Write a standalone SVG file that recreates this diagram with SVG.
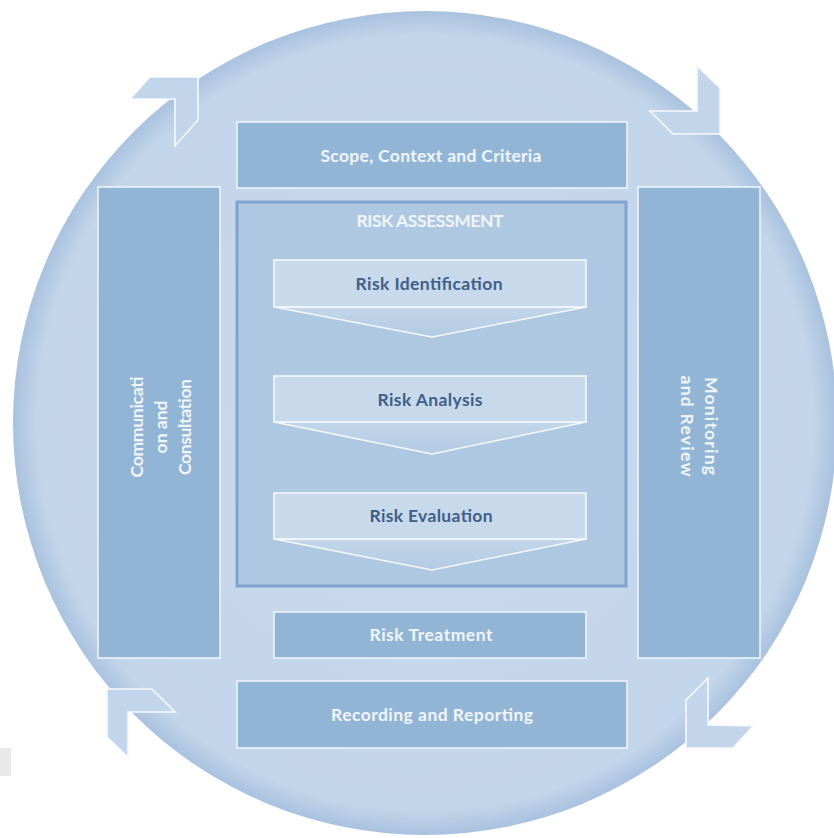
<svg xmlns="http://www.w3.org/2000/svg" width="834" height="838" viewBox="0 0 834 838">
  <defs>
    <radialGradient id="gCircle" cx="0.5" cy="0.5" r="0.5">
      <stop offset="0" stop-color="#c9daee"/>
      <stop offset="0.94" stop-color="#c3d5ea"/>
      <stop offset="1" stop-color="#a9c2df"/>
    </radialGradient>
    <linearGradient id="gTri" x1="0" y1="0" x2="0" y2="1">
      <stop offset="0" stop-color="#c3d6ea"/>
      <stop offset="1" stop-color="#b2cae3"/>
    </linearGradient>
    <style>
      .box { fill: #93b5d5; stroke: #eef4fa; stroke-width: 1.6; }
      .ra { fill: #aec8e1; stroke: #7ea3cc; stroke-width: 3; }
      .chevRect { fill: #c8d9ec; stroke: #f4f8fc; stroke-width: 1.6; }
      .chevTri { fill: url(#gTri); stroke: #f4f8fc; stroke-width: 1.6; stroke-linejoin: round; }
      .arrow { fill: #c2d5ea; stroke: #f6f9fd; stroke-width: 1.6; stroke-linejoin: miter; }
      .lbl { font-family: Lato, "Open Sans", "Liberation Sans", sans-serif; font-weight: bold; font-size: 17.5px; text-anchor: middle; }
      .w { fill: #f0f5fa; }
      .d { fill: #3f5f88; }
    </style>
  </defs>

  <rect x="0" y="0" width="834" height="838" fill="#ffffff"/>
  <rect x="0" y="748" width="11" height="28" fill="#e9e9e9"/>

  <g id="background-circle">
    <circle cx="425" cy="423" r="412" fill="url(#gCircle)"/>
  </g>

  <g id="connectors">
    <polygon class="arrow" points="150,77 198,77 198,120 175,146 175,99 130,99"/>
    <polygon class="arrow" points="697,66 720,88 720,134 673,134 650,111 697,111"/>
    <polygon class="arrow" points="686,700 708,678 708,725 753,726 733,748 686,748"/>
    <polygon class="arrow" points="107,689 152,689 175,712 128,712 128,757 107,737"/>
  </g>

  <g id="scope-context-criteria">
    <rect class="box" x="237" y="122" width="390" height="66"/>
    <text class="lbl w" x="431" y="162" textLength="221">Scope, Context and Criteria</text>
  </g>

  <g id="communication-consultation">
    <rect class="box" x="98" y="187" width="122" height="471"/>
    <g transform="translate(0,427) rotate(-90)">
      <text class="lbl w" x="0" y="143" textLength="101">Communicati</text>
      <text class="lbl w" x="0" y="167">on and</text>
      <text class="lbl w" x="0" y="191" textLength="96">Consultation</text>
    </g>
  </g>

  <g id="monitoring-review">
    <rect class="box" x="638" y="187" width="122" height="471"/>
    <g transform="translate(0,426) rotate(90)">
      <text class="lbl w" x="0" y="-705" textLength="98">Monitoring</text>
      <text class="lbl w" x="0" y="-681" textLength="101">and Review</text>
    </g>
  </g>

  <g id="risk-assessment">
    <rect class="ra" x="237" y="202" width="389" height="384"/>
    <text class="lbl w" x="430" y="226.5" textLength="147">RISK ASSESSMENT</text>
  </g>

  <g id="risk-identification">
    <polygon class="chevTri" points="274,307 586,307 432,337"/>
    <rect class="chevRect" x="274" y="260" width="312" height="47"/>
    <text class="lbl d" x="429" y="290" textLength="147">Risk Identification</text>
  </g>

  <g id="risk-analysis">
    <polygon class="chevTri" points="274,422 586,422 432,454"/>
    <rect class="chevRect" x="274" y="376" width="312" height="46"/>
    <text class="lbl d" x="430" y="406" textLength="105">Risk Analysis</text>
  </g>

  <g id="risk-evaluation">
    <polygon class="chevTri" points="274,539 586,539 432,570"/>
    <rect class="chevRect" x="274" y="493" width="312" height="46"/>
    <text class="lbl d" x="431" y="521.5" textLength="123">Risk Evaluation</text>
  </g>

  <g id="risk-treatment">
    <rect class="box" x="274" y="612" width="312" height="46"/>
    <text class="lbl w" x="431" y="641" textLength="123">Risk Treatment</text>
  </g>

  <g id="recording-reporting">
    <rect class="box" x="237" y="681" width="390" height="67"/>
    <text class="lbl w" x="432" y="721" textLength="202">Recording and Reporting</text>
  </g>
</svg>
